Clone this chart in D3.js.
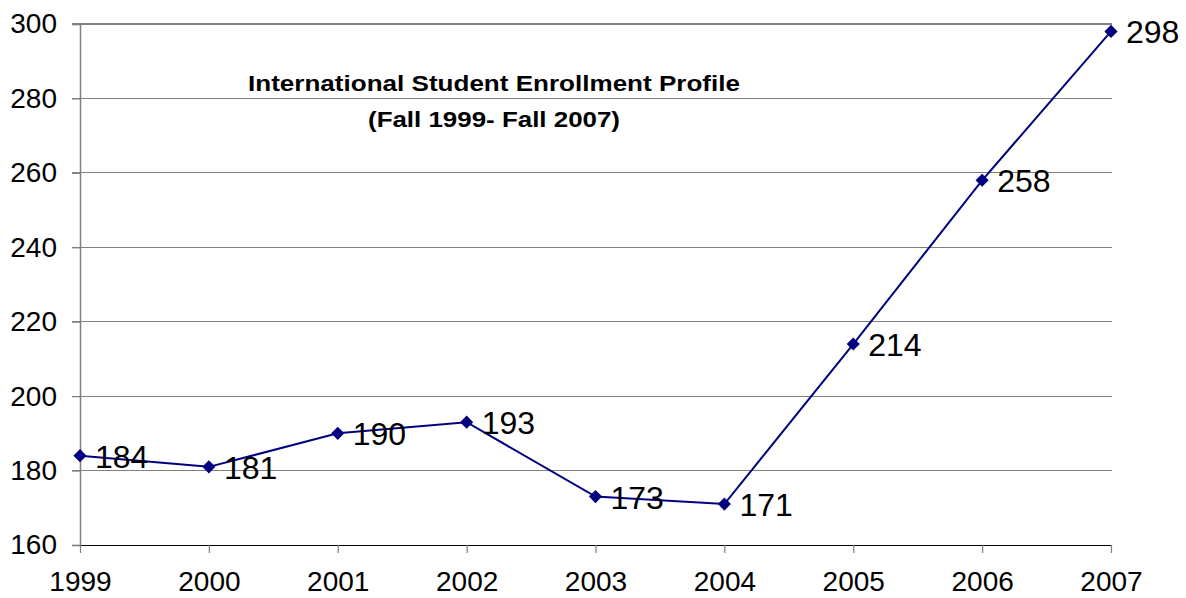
<!DOCTYPE html>
<html><head><meta charset="utf-8">
<script src="https://cdn.jsdelivr.net/npm/d3@7"></script>
<style>body{margin:0;background:#fff;} svg{display:block;font-family:Arial,"Liberation Sans",sans-serif;}</style>
</head><body>
<svg id="c" width="1186" height="598"></svg>
<script>
const years = ["1999","2000","2001","2002","2003","2004","2005","2006","2007"];
const enrollment = [184,181,190,193,173,171,214,258,298];
const yTicks = [160,180,200,220,240,260,280,300];
const titleLines = ["International Student Enrollment Profile","(Fall 1999- Fall 2007)"];

const svg = d3.select("#c");
const FF = "Arial, 'Liberation Sans', sans-serif";
const m = {left:80, right:1111, top:24, bottom:545};
const x = d3.scalePoint().domain(years).range([m.left, m.right]);
const y = d3.scaleLinear().domain([160,300]).range([m.bottom, m.top]);

// gridlines
svg.append("g").selectAll("line").data(yTicks.filter(d=>d!==160)).join("line")
  .attr("x1", m.left-8).attr("x2", m.right+1)
  .attr("y1", d=>y(d)).attr("y2", d=>y(d))
  .attr("stroke","#808080").attr("stroke-width",1.2).attr("shape-rendering","crispEdges");

// y axis
const ya = svg.append("g").attr("transform",`translate(${m.left},0)`)
  .call(d3.axisLeft(y).tickValues(yTicks).tickSize(8).tickPadding(15).tickFormat(d3.format("d")));
ya.select(".domain").attr("stroke","#808080").attr("stroke-width",1.5);
ya.selectAll(".tick line").attr("stroke","#808080").attr("stroke-width",1.2);
ya.selectAll("text").attr("font-size",28).attr("fill","#000").attr("font-family",FF);

// x axis
const xa = svg.append("g").attr("transform",`translate(0,${m.bottom})`)
  .call(d3.axisBottom(x).tickSize(8).tickPadding(18).tickSizeOuter(0));
xa.select(".domain").attr("stroke","#000").attr("stroke-width",1.2);
xa.selectAll(".tick line").attr("stroke","#808080").attr("stroke-width",1.2);
xa.selectAll("text").attr("font-size",28).attr("fill","#000").attr("font-family",FF);

// line
const pts = years.map((yr,i)=>({yr, v:enrollment[i]}));
svg.append("path").datum(pts)
  .attr("fill","none").attr("stroke","#000080").attr("stroke-width",2)
  .attr("d", d3.line().x(d=>x(d.yr)).y(d=>y(d.v)));

// markers
svg.append("g").selectAll("path").data(pts).join("path")
  .attr("transform", d=>`translate(${x(d.yr)},${y(d.v)})`)
  .attr("d", d3.symbol().type(d3.symbolDiamond2).size(110))
  .attr("fill","#000080");

// data labels
svg.append("g").selectAll("text").data(pts).join("text")
  .attr("x", d=>x(d.yr)+15).attr("y", d=>y(d.v)+1)
  .attr("dominant-baseline","central")
  .attr("font-size",32).attr("fill","#000")
  .text(d=>d.v);

// title
const tW = [492, 252];
svg.append("g").selectAll("text").data(titleLines).join("text")
  .attr("x",494).attr("y",(d,i)=>[83.5,119.5][i])
  .attr("text-anchor","middle").attr("dominant-baseline","central")
  .attr("font-size",22).attr("font-weight","bold").attr("fill","#000")
  .attr("textLength",(d,i)=>tW[i]).attr("lengthAdjust","spacingAndGlyphs")
  .text(d=>d);
</script>
</body></html>
